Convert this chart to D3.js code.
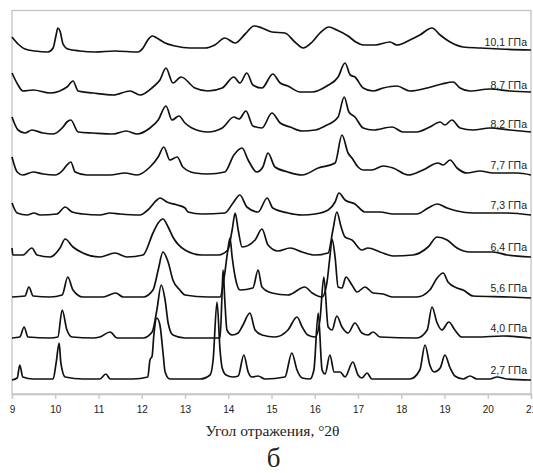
<!DOCTYPE html>
<html>
<head>
<meta charset="utf-8">
<script src="https://cdn.jsdelivr.net/npm/d3@7"></script>
<style>
  body { margin: 0; background: #fff; }
  #xrd-chart svg { display: block; }
</style>
</head>
<body>
<div id="xrd-chart"></div>
<script>
// pressure labels, top trace first
const labels = ["10,1 ГПа", "8,7 ГПа", "8,2 ГПа", "7,7 ГПа", "7,3 ГПа", "6,4 ГПа", "5,6 ГПа", "4,0 ГПа", "2,7 ГПа"];
// vertical stacking offset of each trace (intensity units)
const offsets = [342, 299, 260, 219, 179, 137, 96, 56, 14];
const xTicks = [9, 10, 11, 12, 13, 14, 15, 16, 17, 18, 19, 20, 21];

// [angle °2θ, intensity above background]
const trace10_1 = [[9.00,15],[9.14,8],[9.30,3],[9.53,1],[9.83,0],[9.95,4],[10.02,17],[10.06,24],[10.11,21],[10.18,8],[10.29,3],[10.57,1],[10.92,0],[11.38,1],[11.91,0],[12.03,4],[12.14,12],[12.24,16],[12.35,14],[12.54,9],[12.77,6],[13.12,4],[13.46,4],[13.69,7],[13.92,14],[14.16,9],[14.39,18],[14.60,26],[14.78,24],[15.01,20],[15.31,19],[15.54,10],[15.73,4],[15.94,10],[16.12,19],[16.33,25],[16.51,22],[16.77,16],[16.95,10],[17.12,7],[17.39,7],[17.74,10],[17.90,7],[18.20,12],[18.43,17],[18.71,24],[18.90,17],[19.13,10],[19.43,5],[19.82,4],[20.28,3],[21.00,2]];
const trace8_7 = [[9.00,22],[9.14,10],[9.25,4],[9.49,5],[9.88,2],[10.27,8],[10.41,14],[10.53,4],[10.87,2],[11.34,0],[11.73,4],[11.96,0],[12.26,8],[12.42,15],[12.56,27],[12.72,12],[12.91,18],[13.23,7],[13.53,4],[13.86,7],[14.13,18],[14.27,12],[14.43,22],[14.57,10],[14.78,7],[15.03,21],[15.20,12],[15.38,9],[15.66,3],[15.94,3],[16.28,9],[16.54,18],[16.70,32],[16.82,20],[16.93,18],[17.12,7],[17.35,4],[17.58,7],[17.90,9],[18.20,4],[18.60,7],[18.94,11],[19.20,13],[19.36,7],[19.59,4],[20.05,6],[20.51,4],[21.00,3]];
const trace8_2 = [[9.00,17],[9.14,4],[9.30,1],[9.46,4],[9.72,1],[9.95,0],[10.18,7],[10.27,12],[10.36,14],[10.53,2],[10.87,1],[11.34,0],[11.64,3],[11.89,0],[12.19,6],[12.38,14],[12.56,28],[12.70,14],[12.86,18],[13.00,11],[13.16,6],[13.53,2],[13.86,6],[14.13,17],[14.25,15],[14.41,23],[14.57,8],[14.78,6],[15.01,21],[15.20,11],[15.43,7],[15.71,3],[16.01,4],[16.24,8],[16.54,17],[16.68,37],[16.79,22],[16.93,17],[17.12,6],[17.35,4],[17.79,7],[18.04,2],[18.36,2],[18.66,7],[18.90,12],[19.01,9],[19.17,14],[19.36,6],[19.66,4],[20.05,6],[20.51,4],[21.00,2]];
const trace7_7 = [[9.00,18],[9.12,3],[9.25,0],[9.49,3],[9.72,1],[9.99,0],[10.18,5],[10.27,10],[10.36,13],[10.46,3],[10.73,0],[11.27,0],[11.61,2],[11.89,0],[12.19,8],[12.38,18],[12.51,28],[12.65,15],[12.82,18],[12.95,8],[13.23,2],[13.53,1],[13.92,3],[14.13,20],[14.32,27],[14.46,15],[14.66,3],[14.80,8],[14.92,22],[15.08,8],[15.38,3],[15.71,0],[16.08,7],[16.47,12],[16.63,40],[16.77,22],[16.86,17],[17.00,8],[17.12,5],[17.32,5],[17.58,9],[17.81,7],[18.16,0],[18.50,5],[18.85,12],[18.97,10],[19.13,15],[19.29,7],[19.52,2],[19.82,4],[20.12,2],[20.68,2],[21.00,0]];
const trace7_3 = [[9.00,12],[9.12,2],[9.35,0],[9.51,2],[9.65,0],[10.04,1],[10.23,8],[10.39,3],[10.64,1],[11.03,0],[11.27,2],[11.50,1],[11.96,0],[12.14,5],[12.35,15],[12.42,17],[12.58,13],[12.82,10],[13.00,7],[13.07,3],[13.39,1],[13.92,2],[14.11,12],[14.27,20],[14.43,8],[14.69,3],[14.90,17],[15.03,7],[15.38,2],[15.71,0],[16.01,1],[16.31,5],[16.47,13],[16.56,22],[16.70,15],[16.93,11],[17.16,3],[17.51,3],[17.81,1],[18.36,1],[18.62,7],[18.83,11],[19.06,7],[19.29,4],[19.66,2],[20.45,2],[21.00,0]];
const trace6_4 = [[9.00,9],[9.02,2],[9.25,2],[9.46,9],[9.58,2],[9.88,0],[10.11,9],[10.23,18],[10.41,10],[10.64,4],[11.03,0],[11.38,4],[11.66,0],[12.03,2],[12.26,24],[12.38,34],[12.49,38],[12.61,30],[12.72,20],[13.00,7],[13.39,2],[13.76,2],[13.99,7],[14.09,27],[14.16,44],[14.23,27],[14.32,10],[14.62,17],[14.78,28],[14.92,12],[15.15,6],[15.43,9],[15.71,5],[16.01,2],[16.31,4],[16.42,27],[16.51,45],[16.61,30],[16.70,20],[16.86,17],[17.09,7],[17.23,9],[17.51,5],[17.81,1],[18.27,2],[18.62,10],[18.83,20],[19.06,17],[19.29,9],[19.59,5],[20.12,5],[20.45,2],[21.00,0]];
const trace5_6 = [[9.00,1],[9.30,2],[9.39,11],[9.49,2],[9.88,1],[10.16,3],[10.29,21],[10.41,8],[10.64,1],[11.10,1],[11.40,5],[11.57,1],[12.03,1],[12.26,8],[12.38,28],[12.49,46],[12.61,36],[12.72,18],[12.88,8],[13.00,3],[13.53,1],[13.81,1],[13.92,25],[13.99,48],[14.04,60],[14.09,41],[14.16,21],[14.27,8],[14.57,10],[14.69,28],[14.78,11],[15.01,5],[15.38,3],[15.77,11],[15.94,5],[16.17,1],[16.28,15],[16.35,41],[16.40,59],[16.47,41],[16.54,11],[16.63,10],[16.72,21],[16.86,13],[16.98,6],[17.16,11],[17.35,5],[17.58,4],[17.81,1],[18.36,1],[18.66,8],[18.83,20],[18.97,25],[19.08,16],[19.29,10],[19.43,8],[19.66,2],[20.51,1],[21.00,0]];
const trace4_0 = [[9.00,0],[9.18,1],[9.28,11],[9.37,1],[9.88,0],[10.06,1],[10.16,28],[10.27,8],[10.39,1],[10.87,0],[11.03,1],[11.27,6],[11.43,0],[12.03,0],[12.24,6],[12.35,28],[12.45,53],[12.54,38],[12.61,15],[12.72,3],[13.00,0],[13.81,0],[13.86,48],[13.88,68],[13.92,38],[13.97,8],[14.09,3],[14.23,5],[14.34,13],[14.50,25],[14.62,8],[14.78,3],[15.08,1],[15.38,8],[15.59,21],[15.71,11],[15.84,3],[16.01,1],[16.12,18],[16.21,61],[16.31,11],[16.40,8],[16.51,22],[16.63,11],[16.77,5],[16.93,15],[17.09,5],[17.23,3],[17.35,6],[17.51,1],[18.36,0],[18.60,8],[18.71,31],[18.83,15],[18.94,8],[19.10,16],[19.24,8],[19.40,1],[19.75,1],[20.35,2],[21.00,0]];
const trace2_7 = [[9.00,0],[9.12,2],[9.18,15],[9.25,3],[9.49,1],[9.95,1],[10.02,17],[10.09,37],[10.13,17],[10.23,3],[10.64,1],[11.03,1],[11.17,6],[11.27,1],[11.80,1],[12.14,3],[12.19,20],[12.24,24],[12.28,45],[12.35,62],[12.42,55],[12.49,28],[12.54,8],[12.65,1],[13.35,1],[13.58,5],[13.65,20],[13.74,78],[13.81,30],[13.86,12],[13.95,5],[14.11,3],[14.23,4],[14.36,25],[14.46,8],[14.55,3],[14.69,4],[14.85,1],[15.31,3],[15.47,27],[15.59,10],[15.71,2],[15.89,1],[15.98,10],[16.08,67],[16.17,10],[16.24,6],[16.35,25],[16.45,8],[16.59,8],[16.70,3],[16.88,18],[17.00,5],[17.09,2],[17.21,7],[17.32,1],[18.20,1],[18.43,10],[18.55,35],[18.66,15],[18.76,8],[18.90,12],[19.01,25],[19.13,12],[19.24,4],[19.43,1],[19.59,4],[19.75,1],[20.05,1],[20.21,3],[20.45,1],[21.00,0]];

const traces = [trace10_1, trace8_7, trace8_2, trace7_7, trace7_3, trace6_4, trace5_6, trace4_0, trace2_7];

function drawXrd() {
  const W = 533, H = 473;
  const plot = { left: 12, right: 531, top: 10.5, bottom: 394 };

  const svg = d3.select("#xrd-chart")
    .append("svg")
    .attr("width", W)
    .attr("height", H);

  const x = d3.scaleLinear().domain([9, 21]).range([plot.left, plot.right]);
  const y = d3.scaleLinear().domain([0, 383.5]).range([plot.bottom, plot.top]);

  // frame
  svg.append("rect")
    .attr("x", plot.left)
    .attr("y", plot.top)
    .attr("width", plot.right - plot.left)
    .attr("height", plot.bottom - plot.top)
    .attr("fill", "none")
    .attr("stroke", "#c4c4c4")
    .attr("stroke-width", 1.3);

  // x axis
  const xAxis = svg.append("g")
    .attr("transform", `translate(0,${plot.bottom})`)
    .call(d3.axisBottom(x).tickValues(xTicks).tickSize(5).tickPadding(7).tickFormat(d3.format("d")));
  xAxis.select(".domain").attr("stroke", "#c4c4c4").attr("stroke-width", 1.3);
  xAxis.selectAll(".tick line").attr("stroke", "#c4c4c4").attr("stroke-width", 1.3);
  xAxis.selectAll(".tick text")
    .attr("fill", "#222")
    .style("font-family", "Arial, 'Liberation Sans', sans-serif")
    .style("font-size", "10px");

  const line = d3.line()
    .x((d) => x(d[0]))
    .y((d) => d[1])
    .curve(d3.curveMonotoneX);

  traces.forEach((tr, i) => {
    const pts = tr.map((d) => [d[0], y(d[1] + offsets[i])]);
    svg.append("path")
      .attr("d", line(pts))
      .attr("fill", "none")
      .attr("stroke", "#111")
      .attr("stroke-width", 1.7)
      .attr("stroke-linejoin", "round");
  });

  // pressure labels
  svg.selectAll(".plabel")
    .data(labels)
    .join("text")
    .attr("class", "plabel")
    .attr("x", plot.right - 4)
    .attr("y", (d, i) => y(offsets[i]) - 6)
    .attr("text-anchor", "end")
    .attr("fill", "#222")
    .style("font-family", "Arial, 'Liberation Sans', sans-serif")
    .style("font-size", "10.5px")
    .text((d) => d);

  // axis title
  svg.append("text")
    .attr("x", 272.5)
    .attr("y", 436)
    .attr("text-anchor", "middle")
    .attr("fill", "#222")
    .style("font-family", "'Liberation Serif', 'Times New Roman', serif")
    .style("font-size", "15.5px")
    .text("Угол отражения, °2θ");

  svg.append("text")
    .attr("x", 273.5)
    .attr("y", 467)
    .attr("text-anchor", "middle")
    .attr("fill", "#222")
    .style("font-family", "'Liberation Serif', 'Times New Roman', serif")
    .style("font-size", "27px")
    .text("б");
}

drawXrd();
</script>
</body>
</html>
